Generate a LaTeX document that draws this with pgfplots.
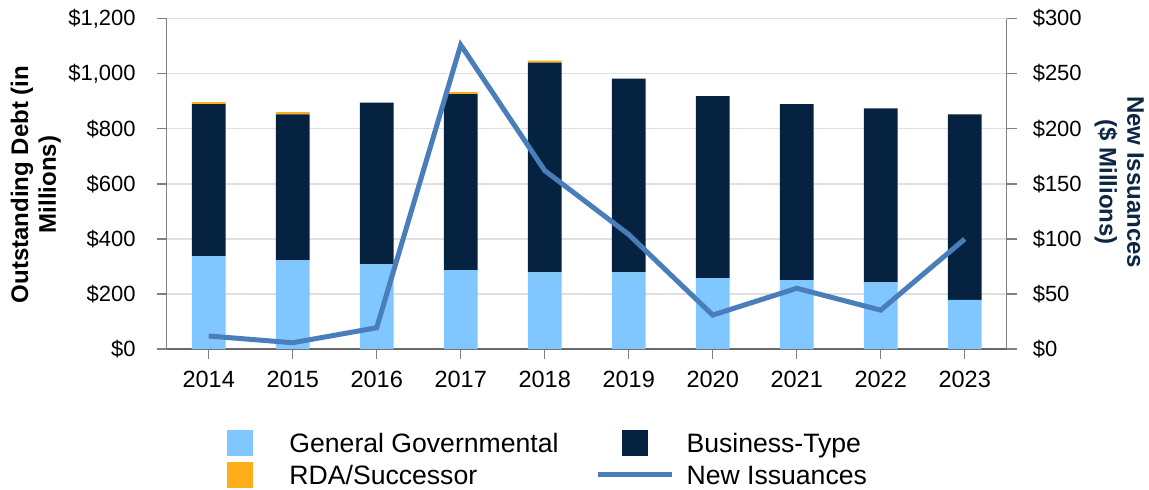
\documentclass[border=0pt]{standalone}
\usepackage{fontspec}
\setmainfont{Liberation Sans}
\usepackage{pgfplots}
\pgfplotsset{compat=1.18}
\definecolor{ggblue}{RGB}{128,198,255}
\definecolor{btnavy}{RGB}{5,34,64}
\definecolor{rdaorange}{RGB}{253,174,26}
\definecolor{newline}{RGB}{74,126,187}
\definecolor{gridgray}{RGB}{224,224,224}
\definecolor{axisgray}{RGB}{128,128,128}
\definecolor{baseaxis}{RGB}{105,105,105}
\definecolor{labelnavy}{RGB}{12,38,68}
\pgfplotsset{
  sqlegend/.style={legend image code/.code={\path (0pt,0pt) (37pt,0pt); \fill[##1] (12pt,-6.5pt) rectangle (25pt,6.5pt);}},
  linelegend/.style={legend image code/.code={\draw[##1] (0pt,0pt) -- (37pt,0pt);}},
  common/.style={
    scale only axis, width=420pt, height=165.25pt, at={(0,0)}, anchor=south west,
    xmin=-0.5, xmax=9.5,
    axis line style={draw=axisgray, line width=0.75pt, -},
    tick align=outside, major tick length=5pt,
    tick style={draw=axisgray, line width=0.75pt},
    /pgf/number format/assume math mode=true,
  }
}
\begin{document}
\begin{tikzpicture}
\useasboundingbox (-83.35pt,-70pt) rectangle (491.15pt,174.5pt);
\begin{axis}[common,
  ymin=0, ymax=1200,
  ybar stacked, bar width=0.4,
  axis x line*=bottom, axis y line*=left,
  x axis line style={draw=baseaxis, line width=0.9pt},
  xtick={0,...,9}, xticklabels={2014,2015,2016,2017,2018,2019,2020,2021,2022,2023},
  ytick={0,200,...,1200}, yticklabels={\$0,\$200,\$400,\$600,\$800,{\$1,000},{\$1,200}},
  ymajorgrids, grid style={draw=gridgray, line width=0.75pt},
  xticklabel style={font=\fontsize{11.75}{13}\selectfont, yshift=-2.5pt},
  yticklabel style={font=\fontsize{11}{13}\selectfont, xshift=-7pt},
  ylabel={Outstanding Debt (in\\Millions)},
  every axis y label/.style={at={(axis description cs:-0.1558,0.498)}, anchor=center, rotate=90, align=center, font=\bfseries\fontsize{12}{13.8}\selectfont},
  legend columns=2,
  legend cell align=left,
  legend style={at={(axis description cs:0.0433,-0.245)}, anchor=north west, draw=none, fill=none, inner sep=0pt,
    font=\fontsize{13.3}{15}\selectfont,
    nodes={inner sep=0pt, text height=9.4pt, text depth=0pt},
    row sep=2.8pt,
    /tikz/every odd column/.append style={column sep=6pt},
    /tikz/every even column/.append style={column sep=18.5pt}},
]
\addplot[fill=ggblue, draw=none, sqlegend] coordinates {(0,337) (1,322) (2,307) (3,286) (4,278) (5,278) (6,257) (7,250) (8,242) (9,178)};
\addlegendentry{General Governmental}
\addplot[fill=btnavy, draw=none, sqlegend] coordinates {(0,552) (1,530) (2,588) (3,639) (4,762) (5,704) (6,661) (7,639) (8,632) (9,674)};
\addlegendentry{Business-Type}
\addplot[fill=rdaorange, draw=none, sqlegend] coordinates {(0,7) (1,8) (2,0) (3,8) (4,7) (5,0) (6,0) (7,0) (8,0) (9,0)};
\addlegendentry{RDA/Successor}
\addlegendimage{draw=newline, line width=2.5pt, linelegend}
\addlegendentry{New Issuances}
\end{axis}
\begin{axis}[common,
  ymin=0, ymax=300,
  axis x line=none, axis y line*=right,
  ytick={0,50,...,300}, yticklabels={\$0,\$50,\$100,\$150,\$200,\$250,\$300},
  yticklabel style={font=\fontsize{11}{13}\selectfont, xshift=4.5pt},
  ylabel={New Issuances\\(\$ Millions)},
  every axis y label/.style={at={(axis description cs:1.134,0.505)}, anchor=center, rotate=-90, align=center, text=labelnavy, font=\bfseries\fontsize{12}{13.8}\selectfont},
]
\addplot[draw=newline, line width=2.5pt, mark=none] coordinates {(0,11.8) (1,5.7) (2,19.3) (3,276) (4,162) (5,104) (6,30.8) (7,55.1) (8,35.3) (9,99.8)};
\end{axis}
\end{tikzpicture}
\end{document}
